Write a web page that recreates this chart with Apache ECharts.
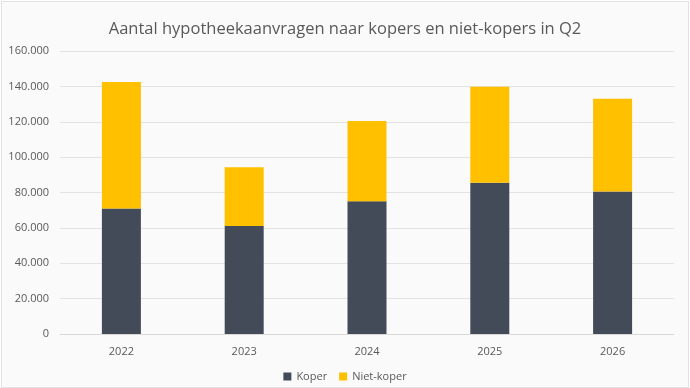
<!DOCTYPE html>
<html>
<head>
<meta charset="utf-8">
<script src="https://cdn.jsdelivr.net/npm/echarts@6/dist/echarts.min.js"></script>
<style>
  html, body { margin: 0; padding: 0; background: #ffffff; }
  #chart {
    position: absolute; left: 1px; top: 1px;
    width: 686px; height: 385px;
    border: 1px solid #e2e2e2;
    background: #fafafa;
  }
</style>
</head>
<body>
<div id="chart"></div>
<script>
// data
const years = ["2022", "2023", "2024", "2025", "2026"];
const koper = [71000, 61000, 75000, 85500, 80500];
const nietKoper = [71500, 33300, 45400, 54300, 52500];
const yTicks = [0, 20000, 40000, 60000, 80000, 100000, 120000, 140000, 160000];

const fmt = v => v === 0 ? "0" : String(v).replace(/\B(?=(\d{3})+(?!\d))/g, ".");

const chart = echarts.init(document.getElementById("chart"));
chart.setOption({
  animation: false,
  textStyle: { fontFamily: "Open Sans" },
  title: {
    text: "Aantal hypotheekaanvragen naar kopers en niet-kopers in Q2",
    left: "center",
    top: 14,
    textStyle: { fontSize: 16.5, fontWeight: "normal", color: "#595959", fontFamily: "Open Sans" }
  },
  legend: {
    bottom: 0,
    left: "center",
    itemWidth: 8,
    itemHeight: 8,
    itemGap: 12,
    icon: "rect",
    textStyle: { fontSize: 11, color: "#595959" }
  },
  grid: { left: 58, right: 14, top: 49, bottom: 53 },
  xAxis: {
    type: "category",
    data: years,
    axisLine: { lineStyle: { color: "#d9d9d9" } },
    axisTick: { show: false },
    axisLabel: { color: "#595959", fontSize: 11, margin: 12 }
  },
  yAxis: {
    type: "value",
    min: yTicks[0],
    max: yTicks[yTicks.length - 1],
    interval: yTicks[1] - yTicks[0],
    axisLine: { show: false },
    axisTick: { show: false },
    splitLine: { lineStyle: { color: "#e3e3e3", width: 1 } },
    axisLabel: { color: "#595959", fontSize: 11, margin: 11, formatter: fmt }
  },
  series: [
    {
      name: "Koper",
      type: "bar",
      stack: "totaal",
      data: koper,
      barWidth: 39,
      itemStyle: { color: "#444b58" }
    },
    {
      name: "Niet-koper",
      type: "bar",
      stack: "totaal",
      data: nietKoper,
      barWidth: 39,
      itemStyle: { color: "#ffc000" }
    }
  ]
});
</script>
</body>
</html>
